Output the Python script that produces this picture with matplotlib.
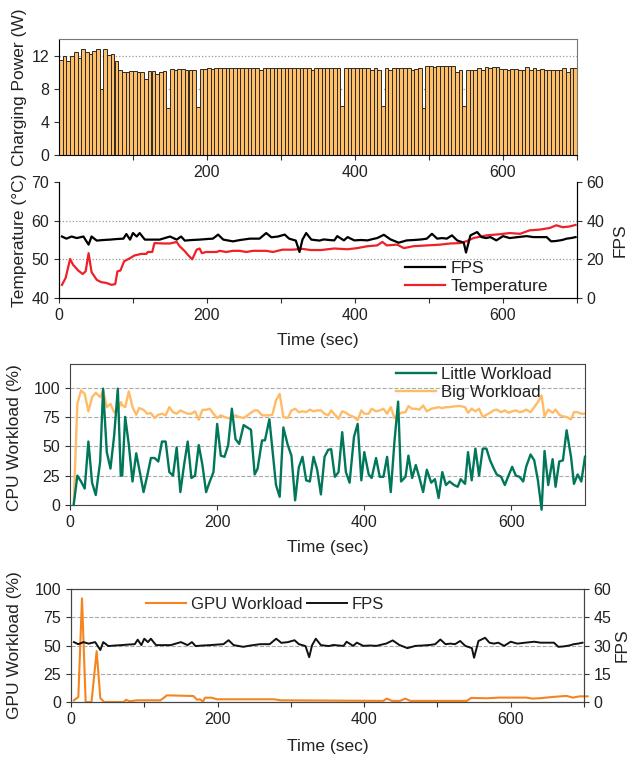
import numpy as np
import matplotlib
matplotlib.use("Agg")
import matplotlib.pyplot as plt

plt.rcParams['font.family'] = ['Liberation Sans', 'DejaVu Sans']
plt.rcParams['font.size'] = 11.5
plt.rcParams['text.color'] = '#222222'
plt.rcParams['axes.labelcolor'] = '#222222'
plt.rcParams['xtick.color'] = '#333333'
plt.rcParams['ytick.color'] = '#333333'
plt.rcParams['xtick.labelcolor'] = '#222222'
plt.rcParams['ytick.labelcolor'] = '#222222'

# charging power, one bar every 5 s
power = [11.5, 11.9, 11.4, 12.0, 12.4, 11.7, 12.8, 12.4, 12.2, 12.6,
         12.8, 8.0, 12.8, 12.1, 12.2, 11.4, 10.2, 10.0, 10.0, 10.1,
         10.1, 10.0, 10.0, 9.2, 10.1, 10.1, 9.8, 10.0, 10.1, 5.7,
         10.4, 10.2, 10.4, 10.4, 10.3, 10.3, 10.3, 5.8, 10.4, 10.4,
         10.5, 10.4, 10.5, 10.5, 10.5, 10.5, 10.5, 10.5, 10.5, 10.5,
         10.5, 10.5, 10.5, 10.5, 10.3, 10.5, 10.5, 10.5, 10.5, 10.5,
         10.5, 10.5, 10.5, 10.5, 10.5, 10.5, 10.5, 10.5, 10.3, 10.5,
         10.5, 10.5, 10.5, 10.5, 10.5, 10.5, 5.9, 10.5, 10.5, 10.5,
         10.5, 10.5, 10.5, 10.5, 10.3, 10.5, 10.3, 5.9, 10.5, 10.2,
         10.5, 10.5, 10.5, 10.5, 10.5, 10.2, 10.4, 10.5, 5.7, 10.7,
         10.7, 10.6, 10.7, 10.7, 10.7, 10.7, 10.7, 10.0, 10.3, 5.9,
         10.3, 10.3, 10.3, 10.5, 10.3, 10.6, 10.5, 10.6, 10.6, 10.4,
         10.4, 10.3, 10.4, 10.4, 10.3, 10.3, 10.6, 10.3, 10.5, 10.3,
         10.4, 10.3, 10.3, 10.3, 10.2, 10.3, 10.5, 10.0, 10.5, 10.5]
bar_t = np.arange(0, 700, 5)

temp_t = [4, 9, 15, 19, 26, 32, 36, 40, 44, 51, 57, 64, 71, 76, 79, 83, 88, 96,
          102, 111, 118, 120, 126, 129, 141, 150, 159, 163, 170, 174, 180, 186,
          190, 193, 199, 213, 217, 226, 235, 244, 253, 262, 280, 289, 302, 316,
          329, 340, 354, 372, 390, 403, 417, 430, 437, 443, 457, 466, 479, 497,
          515, 529, 542, 551, 560, 578, 596, 609, 623, 636, 650, 663, 672, 681,
          690, 698]
temp = [43.4, 45.2, 50.1, 48.6, 47.1, 46.2, 46.9, 51.6, 46.7, 44.7, 44.1, 43.9,
        43.4, 43.6, 46.9, 47.1, 49.5, 50.3, 51.0, 51.4, 51.4, 51.9, 51.9, 54.2,
        54.1, 54.1, 54.5, 53.4, 52.1, 51.2, 50.0, 52.5, 52.8, 51.6, 51.9, 51.9,
        52.2, 51.9, 52.2, 52.2, 51.9, 52.2, 52.2, 51.9, 52.5, 52.5, 52.7, 52.4,
        52.4, 52.8, 52.6, 52.9, 53.4, 53.6, 54.5, 53.6, 53.8, 52.9, 53.4, 53.6,
        53.8, 54.1, 54.2, 54.7, 55.5, 56.2, 56.5, 56.8, 56.6, 57.5, 57.7, 58.1,
        58.8, 58.3, 58.5, 58.9]

fps_t = [4, 10, 17, 24, 33, 40, 44, 51, 60, 69, 78, 87, 91, 96, 100, 105, 109,
         116, 125, 136, 143, 150, 159, 165, 170, 180, 190, 200, 208, 215, 222,
         235, 245, 258, 271, 280, 287, 296, 305, 311, 320, 325, 329, 334, 341,
         352, 358, 365, 372, 376, 385, 390, 399, 408, 417, 424, 430, 439, 448,
         459, 470, 480, 490, 497, 504, 511, 518, 524, 531, 538, 547, 550, 556,
         565, 571, 577, 583, 591, 600, 609, 620, 632, 641, 650, 659, 665, 672,
         680, 686, 692, 698]
fps = [31.8, 30.7, 31.8, 31.0, 31.8, 27.6, 31.8, 29.7, 30.0, 30.2, 30.5, 30.7,
       33.1, 30.2, 33.6, 31.8, 33.6, 30.2, 30.2, 30.2, 31.0, 31.8, 30.2, 31.8,
       29.7, 30.0, 30.2, 30.5, 30.7, 32.8, 30.2, 29.3, 30.0, 30.7, 30.7, 33.6,
       31.4, 31.8, 32.8, 30.7, 29.7, 23.8, 30.2, 33.6, 30.2, 29.7, 30.3, 30.0,
       29.8, 32.0, 29.8, 31.5, 29.8, 30.0, 29.8, 30.5, 31.0, 32.7, 30.3, 28.6,
       29.8, 30.0, 30.3, 30.7, 33.2, 30.7, 31.0, 30.7, 32.4, 29.8, 28.6, 23.5,
       32.4, 34.1, 31.5, 31.0, 31.5, 29.8, 32.0, 31.0, 31.5, 32.0, 31.5, 31.5,
       31.5, 29.3, 29.5, 30.0, 30.7, 31.0, 31.5]

cpu_t = [5, 10, 15, 20, 25, 30, 35, 41, 45, 50, 55, 60, 65, 69, 71, 75, 80, 85,
         90, 94, 100, 105, 110, 115, 120, 125, 130, 135, 140, 145, 150, 155, 160,
         165, 170, 175, 180, 185, 190, 195, 200, 205, 210, 215, 220, 225, 230,
         236, 241, 246, 251, 255, 261, 265, 271, 275, 280, 285, 290, 296, 301,
         306, 311, 316, 321, 326, 331, 336, 341, 346, 351, 355, 360, 365, 370,
         375, 380, 386, 391, 396, 400, 406, 410, 416, 421, 426, 431, 436, 441,
         446, 450, 456, 460, 465, 470, 475, 480, 485, 491, 496, 501, 506, 511,
         516, 522, 527, 531, 537, 541, 546, 551, 556, 561, 566, 571, 576, 580,
         586, 591, 596, 601, 606, 611, 616, 620, 626, 631, 636, 641, 645, 650,
         656, 660, 665, 670, 675, 681, 685, 690, 695, 700]
little = [0, 25, 20, 14, 54, 19, 8.5, 37, 99, 45, 31, 59, 99, 25, 25, 75, 51, 20,
          44, 31, 11, 25, 40, 40, 37, 54, 54, 28, 25, 49, 11, 34, 54, 23, 25, 51,
          34, 11, 20, 28, 69, 42, 41, 51, 82, 56, 52, 68, 66, 64, 26, 31, 55, 55,
          73, 48, 17, 7, 66, 51, 42, 4, 32, 41, 21, 20, 41, 30, 9, 41, 47, 47.5,
          24, 28, 62, 28, 19, 58, 69, 21, 45, 26, 23, 40, 24, 24, 41, 11, 54,
          88, 20, 24, 42, 23, 34, 23, 11, 30, 19, 22, 6, 28, 17, 20, 17, 15.5,
          22, 18, 45, 21, 48, 25, 48, 48, 38, 31, 26, 24, 17, 25, 32.5, 25, 24,
          20, 32.5, 43, 38, 21, -4, 46, 17, 39, 15.5, 37, 38, 63.6, 41, 18, 26,
          20, 41]
big = [0, 86, 97.5, 94.6, 79.7, 91.8, 95.5, 91.8, 97.5, 83.3, 86, 79, 80, 87.6,
       85, 83.3, 96.6, 83.3, 76.8, 82.5, 81, 77.7, 78.2, 74, 76.8, 77.7, 76.3,
       83.3, 79, 77.7, 80.5, 79, 77.7, 77.7, 79.7, 72.6, 81, 81, 81.9, 77.7, 74,
       76.3, 74.9, 74, 74, 76.3, 74.9, 74, 76.3, 78.5, 80.5, 80.5, 76.3, 76.3,
       76.3, 76.8, 89, 94.6, 74.9, 74, 80.5, 81.9, 79, 79.7, 79, 81.2, 79.7,
       80.5, 80.5, 77.7, 76.3, 80.5, 76.8, 73.4, 79.7, 78.5, 76.3, 74.9, 72.1,
       80.5, 77.7, 77.7, 81.9, 79.7, 80.5, 81.9, 77.7, 83.3, 74, 76.3, 78.5,
       79, 84.2, 81.9, 81.9, 81.2, 84.7, 79.7, 81.9, 82.5, 83.3, 82.5, 83.3,
       83.3, 83.9, 84.2, 84.2, 83.3, 78.5, 81.9, 79.7, 81.9, 74.9, 76.8, 78.5,
       80.5, 81.2, 79, 80.5, 78.5, 79.7, 80.5, 79, 79.7, 81.2, 79, 83.3, 87.6,
       93.2, 75.4, 81.2, 78.5, 81.2, 76.8, 75.4, 74.9, 72.9, 79, 79, 77.7, 77.7]

gpu_t = [4, 10, 15, 20, 28, 35, 40, 45, 72, 75, 80, 90, 122, 131, 167, 172, 176,
         180, 183, 192, 199, 277, 286, 426, 431, 438, 449, 456, 463, 540, 546,
         567, 585, 621, 630, 639, 658, 676, 685, 694, 705]
gpu = [1.5, 4.4, 91.7, 0, 0, 45, 3.5, 0, 0, 2, 0.6, 1.5, 1.5, 5.9, 5.3, 2, 2.4,
       0.5, 3.8, 3.8, 2.4, 2.4, 1.5, 1, 3, 1, 1, 3, 1, 1, 3.6, 3.3, 3.9, 3.9, 3,
       3.3, 4.5, 5.4, 3.9, 5, 5]

W, H = 631, 759
fig = plt.figure(figsize=(W / 100, H / 100), dpi=100)


def box(l, r, t, b):
    return [l / W, 1 - b / H, (r - l) / W, (b - t) / H]


def every100(ax, labelled):
    ax.set_xticks(np.arange(0 if 0 in labelled else 100, 701, 100))
    ax.set_xticklabels([str(v) if v in labelled else '' for v in ax.get_xticks().astype(int)])


# %% panel 1: charging power
ax1 = fig.add_axes(box(59, 577, 39, 155))
ax1.bar(bar_t, power, width=5, align='edge', color='#ffbf66', edgecolor='#2a2a2a',
        linewidth=0.7, zorder=2)
ax1.set_xlim(0, 700)
ax1.set_ylim(0, 14)
ax1.set_yticks([0, 4, 8, 12])
every100(ax1, [200, 400, 600])
ax1.yaxis.grid(True, linestyle=':', color='#999999', linewidth=0.9, zorder=0)
ax1.set_axisbelow(True)
for s in ['top', 'right']:
    ax1.spines[s].set_color('#777777')
ax1.set_ylabel('Charging Power (W)', fontsize=12.5)
ax1.yaxis.set_label_coords(-0.062, 0.58)

# %% panel 2: temperature + fps
ax2 = fig.add_axes(box(59, 577, 182, 298))
ax2.plot(temp_t, temp, color='#ee2028', linewidth=1.6, label='Temperature')
ax2.set_xlim(0, 700)
ax2.set_ylim(40, 70)
ax2.set_yticks([40, 50, 60, 70])
every100(ax2, [0, 200, 400, 600])
for g in [50, 60]:
    ax2.axhline(g, linestyle=':', color='#999999', linewidth=0.9, zorder=0)
ax2.spines['top'].set_visible(False)
ax2.set_ylabel('Temperature (°C)', fontsize=12.5)
ax2.yaxis.set_label_coords(-0.062, 0.5)
ax2.set_xlabel('Time (sec)', fontsize=12.5)
ax2.xaxis.set_label_coords(0.5, -0.30)
ax2b = ax2.twinx()
ax2b.plot(fps_t, fps, color='black', linewidth=1.6, label='FPS')
ax2b.set_ylim(0, 60)
ax2b.set_yticks([0, 20, 40, 60])
ax2b.spines['top'].set_visible(False)
ax2b.set_ylabel('FPS', fontsize=12.5)
ax2b.yaxis.set_label_coords(1.068, 0.5)
h1, l1 = ax2b.get_legend_handles_labels()
h2, l2 = ax2.get_legend_handles_labels()
ax2b.legend(h1 + h2, l1 + l2, loc='center left', bbox_to_anchor=(0.652, 0.177),
            frameon=False, borderpad=0, handlelength=2.3, handletextpad=0.3,
            labelspacing=0.2, fontsize=12.5)

# %% panel 3: cpu workload
ax3 = fig.add_axes(box(70, 585, 364, 505))
ax3.plot(cpu_t, little, color='#00775a', linewidth=1.7, label='Little Workload',
         clip_on=False, zorder=3)
ax3.plot(cpu_t, big, color='#ffbb66', linewidth=1.7, label='Big Workload', zorder=2)
ax3.set_xlim(0, 700)
ax3.set_ylim(0, 120)
ax3.set_yticks([0, 25, 50, 75, 100])
ax3.set_xticks([0, 200, 400, 600])
ax3.yaxis.grid(True, linestyle='--', color='#aaaaaa', linewidth=0.8)
ax3.set_axisbelow(True)
for s in ax3.spines.values():
    s.set_color('#444444')
ax3.set_ylabel('CPU Workload (%)', fontsize=12.5)
ax3.yaxis.set_label_coords(-0.093, 0.475)
ax3.set_xlabel('Time (sec)', fontsize=12.5)
ax3.xaxis.set_label_coords(0.5, -0.245)
ax3.legend(loc='center left', bbox_to_anchor=(0.617, 0.862), frameon=False,
           borderpad=0, handlelength=2.4, handletextpad=0.3, labelspacing=0.2,
           fontsize=12)

# %% panel 4: gpu workload + fps
ax4 = fig.add_axes(box(71, 584, 589, 702))
ax4.plot(gpu_t, gpu, color='#f5841f', linewidth=1.5, label='GPU Workload',
         clip_on=False)
ax4.set_xlim(0, 700)
ax4.set_ylim(0, 100)
ax4.set_yticks([0, 25, 50, 75, 100])
every100(ax4, [0, 200, 400, 600])
ax4.yaxis.grid(True, linestyle='--', color='#aaaaaa', linewidth=0.8)
ax4.set_axisbelow(True)
for s in ax4.spines.values():
    s.set_color('#444444')
ax4.set_ylabel('GPU Workload (%)', fontsize=12.5)
ax4.yaxis.set_label_coords(-0.095, 0.5)
ax4.set_xlabel('Time (sec)', fontsize=12.5)
ax4.xaxis.set_label_coords(0.5, -0.33)
ax4b = ax4.twinx()
ax4b.plot(fps_t, fps, color='#111111', linewidth=1.4, label='FPS')
ax4b.set_ylim(0, 60)
ax4b.set_yticks([0, 15, 30, 45, 60])
for s in ax4b.spines.values():
    s.set_color('#444444')
ax4b.set_ylabel('FPS', fontsize=12.5)
ax4b.yaxis.set_label_coords(1.06, 0.5)
h1, l1 = ax4.get_legend_handles_labels()
h2, l2 = ax4b.get_legend_handles_labels()
ax4b.legend(h1 + h2, l1 + l2, loc='center left', bbox_to_anchor=(0.129, 0.867),
            ncol=2, frameon=False, borderpad=0, handlelength=2.4,
            handletextpad=0.3, columnspacing=0.3, fontsize=12)

fig.savefig('out.png', dpi=100)
